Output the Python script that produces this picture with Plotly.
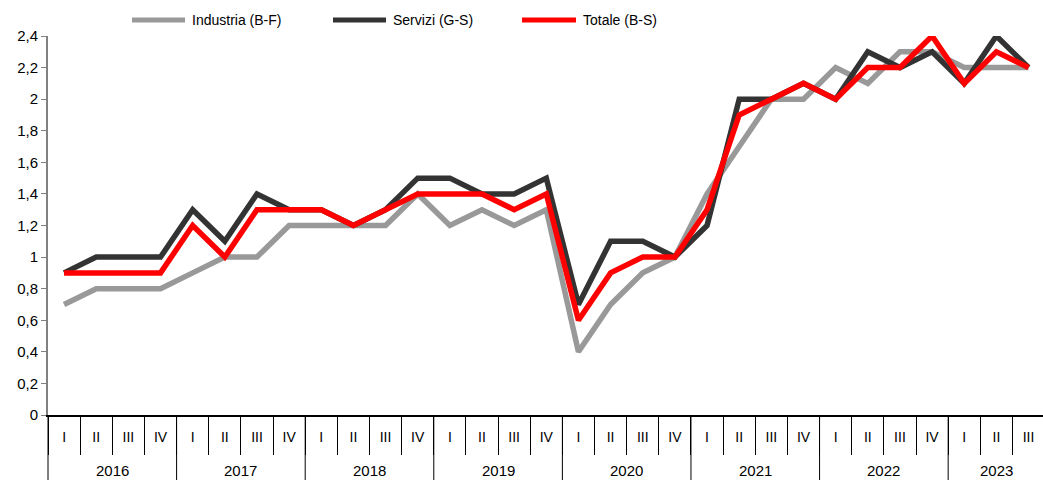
import plotly.graph_objects as go

years = ["2016"] * 4 + ["2017"] * 4 + ["2018"] * 4 + ["2019"] * 4 + ["2020"] * 4 + ["2021"] * 4 + ["2022"] * 4 + ["2023"] * 3
quarters = ["I", "II", "III", "IV"] * 7 + ["I", "II", "III"]

industria = [0.7, 0.8, 0.8, 0.8, 0.9, 1.0, 1.0, 1.2, 1.2, 1.2, 1.2, 1.4,
             1.2, 1.3, 1.2, 1.3, 0.4, 0.7, 0.9, 1.0, 1.4, 1.7, 2.0, 2.0,
             2.2, 2.1, 2.3, 2.3, 2.2, 2.2, 2.2]
servizi = [0.9, 1.0, 1.0, 1.0, 1.3, 1.1, 1.4, 1.3, 1.3, 1.2, 1.3, 1.5,
           1.5, 1.4, 1.4, 1.5, 0.7, 1.1, 1.1, 1.0, 1.2, 2.0, 2.0, 2.1,
           2.0, 2.3, 2.2, 2.3, 2.1, 2.4, 2.2]
totale = [0.9, 0.9, 0.9, 0.9, 1.2, 1.0, 1.3, 1.3, 1.3, 1.2, 1.3, 1.4,
          1.4, 1.4, 1.3, 1.4, 0.6, 0.9, 1.0, 1.0, 1.3, 1.9, 2.0, 2.1,
          2.0, 2.2, 2.2, 2.4, 2.1, 2.3, 2.2]

series_names = ["Industria (B-F)", "Servizi (G-S)", "Totale (B-S)"]
series_values = [industria, servizi, totale]
series_colors = ["#999999", "#333333", "#ff0000"]

W, H = 1043, 480
ML, MR, MT, MB = 48, 0, 36, 65
PW, PH = W - ML - MR, H - MT - MB
XR = [-0.5, 30.45]

idx = list(range(len(quarters)))

fig = go.Figure()
for name, vals, col in zip(series_names, series_values, series_colors):
    fig.add_trace(go.Scatter(
        x=idx, y=vals, name=name, mode="lines",
        line=dict(color=col, width=5.5), showlegend=False,
        hoverinfo="skip",
    ))

font = "Liberation Sans, Arial, sans-serif"

def px_x(xpix):
    return (xpix - ML) / PW

def px_y(ypix):
    return (H - MB - ypix) / PH

def data_x(v):
    return (v - XR[0]) / (XR[1] - XR[0])

shapes = []
annotations = []

# custom legend (long line samples)
legend_pos = [(132, 185, 190), (333, 386, 391), (522, 576, 581)]
for (x0, x1, xt), name, col in zip(legend_pos, series_names, series_colors):
    shapes.append(dict(type="line", xref="paper", yref="paper",
                       x0=px_x(x0), x1=px_x(x1), y0=px_y(20), y1=px_y(20),
                       line=dict(color=col, width=5)))
    annotations.append(dict(xref="paper", yref="paper", x=px_x(xt), y=px_y(20),
                            text=name, showarrow=False, xanchor="left", yanchor="middle",
                            font=dict(family=font, size=14, color="#000")))

# year groups: labels and dividers
year_order = []
for y in years:
    if y not in year_order:
        year_order.append(y)
for yr in year_order:
    members = [i for i, y in enumerate(years) if y == yr]
    center = (members[0] + members[-1]) / 2
    annotations.append(dict(xref="paper", yref="paper", x=data_x(center), y=px_y(470),
                            text=yr, showarrow=False, xanchor="center", yanchor="middle",
                            font=dict(family=font, size=15, color="#000")))
    bx = members[0] - 0.5
    shapes.append(dict(type="line", xref="paper", yref="paper",
                       x0=data_x(bx), x1=data_x(bx), y0=0, y1=px_y(H),
                       line=dict(color="#000", width=1)))

fig.update_layout(
    width=W, height=H,
    margin=dict(l=ML, r=MR, t=MT, b=MB, autoexpand=False),
    paper_bgcolor="white", plot_bgcolor="white",
    separators=",.",
    font=dict(family=font, size=14, color="#000000"),
    showlegend=False, hovermode=False,
    shapes=shapes, annotations=annotations,
)
fig.update_yaxes(
    range=[0, 2.4], dtick=0.2, showgrid=False, zeroline=False,
    showline=True, linecolor="#808080", linewidth=2,
    ticks="outside", ticklen=5, tickcolor="#808080", tickwidth=1,
    tickfont=dict(size=15), automargin=False,
)
fig.update_xaxes(
    range=XR, showgrid=False, zeroline=False,
    showline=True, linecolor="#000000", linewidth=1.5,
    tickmode="array", tickvals=idx, ticktext=quarters, ticks="",
    ticklabelstandoff=8,
    minor=dict(tickmode="array", tickvals=[i - 0.5 for i in idx] + [idx[-1] + 0.5],
               ticks="outside", ticklen=38, tickcolor="#000000", tickwidth=1),
    tickfont=dict(size=14, color="#000000"), automargin=False,
)

fig.write_html("out.html", config={"displayModeBar": False},
               post_script="document.body.style.margin='0';document.body.style.padding='0';")
